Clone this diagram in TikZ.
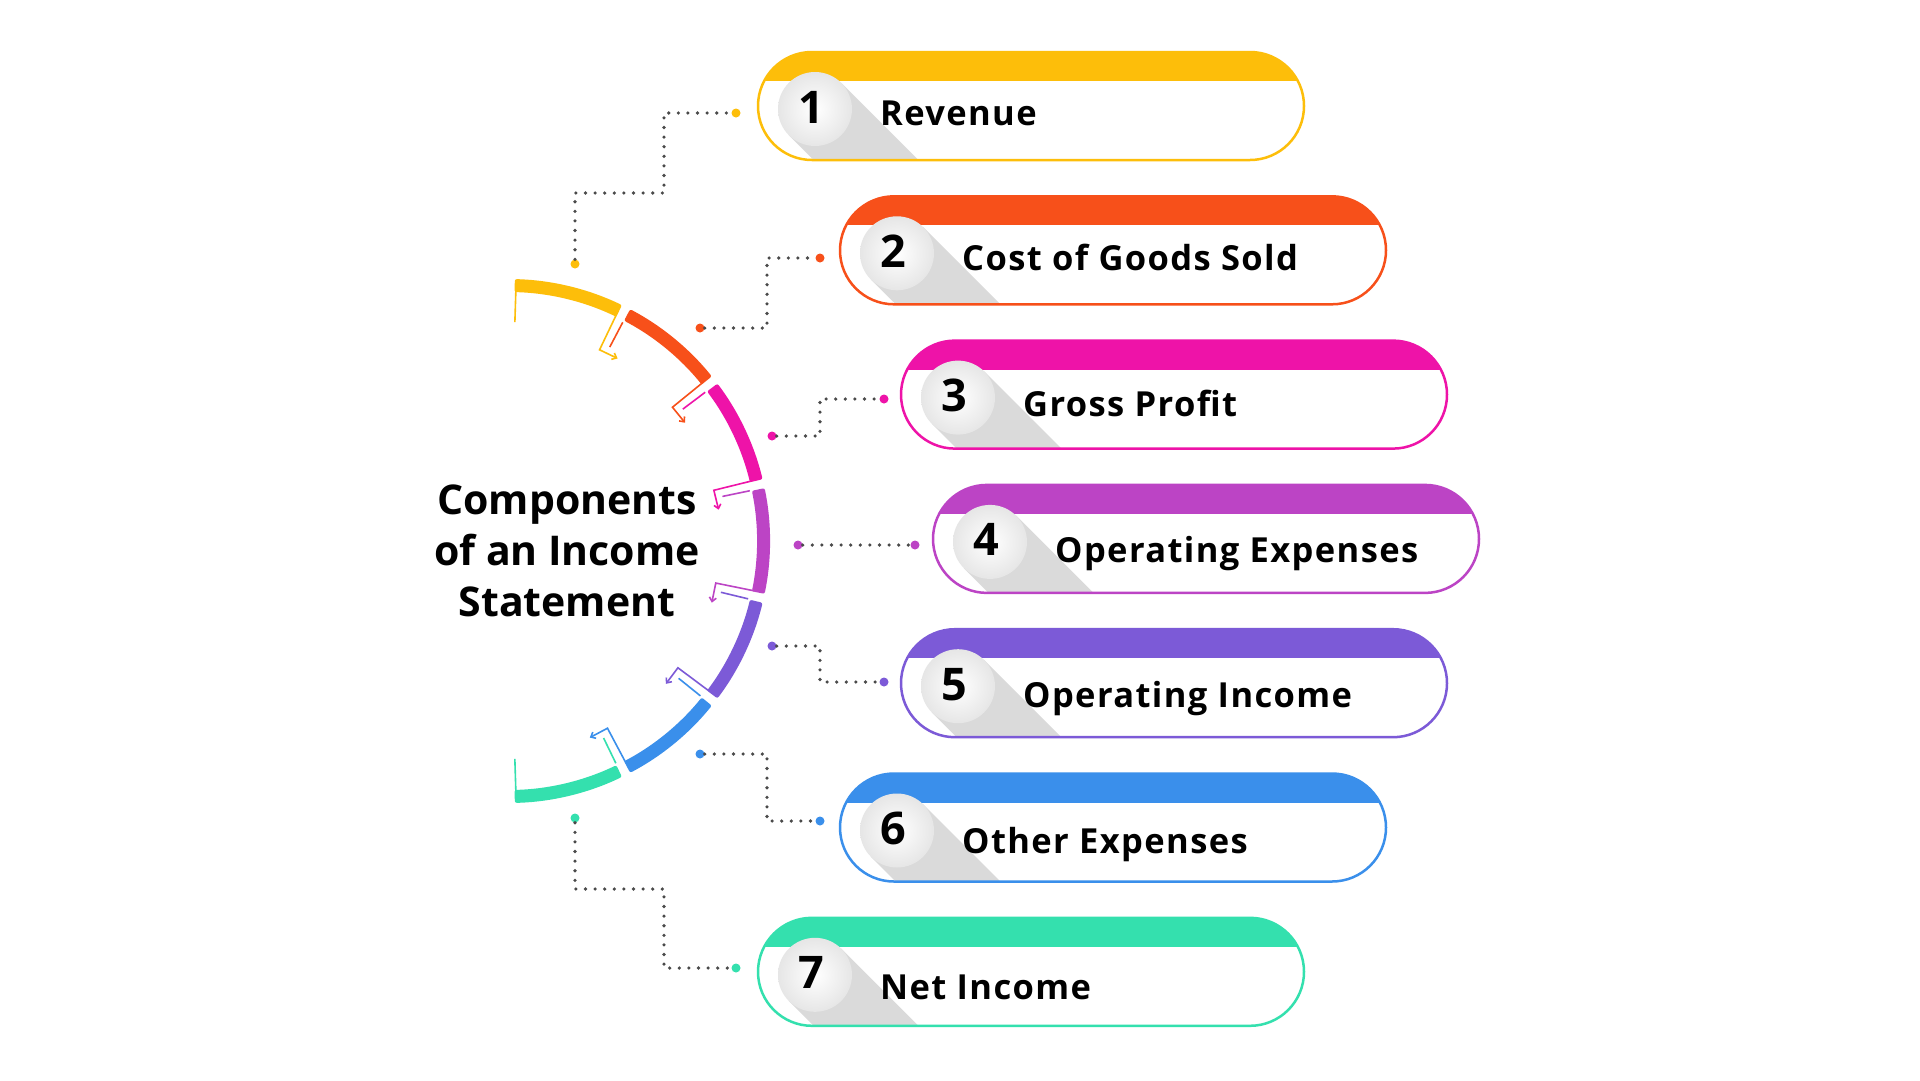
\documentclass[tikz,border=0pt]{standalone}
\usepackage{fontspec}
\setmainfont{Open Sans}
\newfontfamily\itemfont{Open Sans}[LetterSpace=4]
\usetikzlibrary{calc,arrows.meta}
\definecolor{c1}{HTML}{FDBE0A}
\definecolor{c2}{HTML}{F7501A}
\definecolor{c3}{HTML}{EE13A8}
\definecolor{c4}{HTML}{BC44C5}
\definecolor{c5}{HTML}{7C5AD7}
\definecolor{c6}{HTML}{3A8FEB}
\definecolor{c7}{HTML}{34E0AE}
\definecolor{dotgray}{HTML}{4A4A4A}
\definecolor{shadowgray}{HTML}{DADADA}
\definecolor{ballgray}{HTML}{E6E6E6}
\tikzset{
  cdot/.style={circle, inner sep=0pt, minimum size=9pt},
  link/.style={dotgray, line width=3.6pt, dash pattern=on 0pt off 9.6pt, line cap=round},
  numball/.style={circle, inner sep=0pt, minimum size=74pt, inner color=white, outer color=ballgray},
  numtext/.style={inner sep=0pt, font=\fontsize{45}{45}\selectfont\bfseries},
  itemtext/.style={anchor=base west, inner sep=0pt, font=\itemfont\fontsize{34.5}{40}\selectfont\bfseries},
  leg/.style={line width=1.6pt},
  pillline/.style={line width=2.5pt, rounded corners=54pt}
}
\newcommand{\pillitem}[5]{%
  \begin{scope}
    \clip[rounded corners=54pt] (#2,#3-54) rectangle ++(546,108);
    \fill[white] (#2,#3-54) rectangle ++(546,108);
    \fill[c#1] (#2,#3-54) rectangle ++(546,29);
    \fill[shadowgray] ($(#2+57,#3+3)+(26.2,-26.2)$) -- ++(240,240)
      -- ($(#2+57,#3+3)+(-26.2,26.2)+(240,240)$) -- ($(#2+57,#3+3)+(-26.2,26.2)$) -- cycle;
  \end{scope}
  \draw[c#1, pillline] (#2,#3-54) rectangle ++(546,108);
  \node[numball] (n#1) at (#2+57,#3+3) {};
  \node[numtext] (d#1) at (#2+53,#3+1) {#1};
  \node[itemtext] (t#1) at (#2+122,#5) {#4};
}
\begin{document}
\begin{tikzpicture}[x=1pt,y=-1pt]
\useasboundingbox (0,0) rectangle (1920,1080);
\fill[white] (0,0) rectangle (1920,1080);

% arc
\coordinate (C) at (508,541);
\foreach \k in {1,...,7}{
  \pgfmathsetmacro\aone{ifthenelse(\k==1, 88.5, 88.5-(\k-1)*25.2857-1)}
  \pgfmathsetmacro\atwo{ifthenelse(\k==7, -88.5, 88.5-\k*25.2857+1)}
  \fill[c\k, rounded corners=2pt] ($(C)+(-\aone:262)$) arc[start angle=-\aone, end angle=-\atwo, radius=262]
    -- ($(C)+(-\atwo:249)$) arc[start angle=-\atwo, end angle=-\aone, radius=249] -- cycle;
}
\foreach \j in {1,...,6}{
  \pgfmathtruncatemacro\jn{\j+1}
  \pgfmathsetmacro\tha{88.5-\j*25.2857+1.2}
  \pgfmathsetmacro\thb{88.5-\j*25.2857-0.9}
  \pgfmathsetmacro\tang{90-\tha}
  \draw[c\j, leg, -{Straight Barb[length=4pt,width=7pt]}] ($(C)+(-\tha:251)$) -- ($(C)+(-\tha:212)$) -- ++(\tang:20);
  \draw[c\jn, leg] ($(C)+(-\thb:247)$) -- ($(C)+(-\thb:219)$);
}
\draw[c1, leg] ($(C)+(-88.2:258)$) -- ($(C)+(-88.2:219)$);
\draw[c7, leg] ($(C)+(88.2:257)$) -- ($(C)+(88.2:218)$);

% title
\node[inner sep=0pt, align=center, font=\fontsize{41}{51}\selectfont\bfseries] (title) at (567,551)
  {Components\\of an Income\\Statement};

% pills
\pillitem{1}{758}{106}{Revenue}{125}
\pillitem{2}{840}{250.3}{Cost of Goods Sold}{270.6}
\pillitem{3}{901}{394.6}{Gross Profit}{416}
\pillitem{4}{933}{538.9}{Operating Expenses}{562}
\pillitem{5}{901}{683.2}{Operating Income}{707}
\pillitem{6}{840}{827.5}{Other Expenses}{853}
\pillitem{7}{758}{971.8}{Net Income}{999}

% connector end points
\node[cdot, fill=c1] (s1) at (575,264) {};
\node[cdot, fill=c2] (s2) at (700,328) {};
\node[cdot, fill=c3] (s3) at (772,436) {};
\node[cdot, fill=c4] (s4) at (798,545) {};
\node[cdot, fill=c5] (s5) at (772,646) {};
\node[cdot, fill=c6] (s6) at (700,754) {};
\node[cdot, fill=c7] (s7) at (575,818) {};
\node[cdot, fill=c1] (e1) at (736,113) {};
\node[cdot, fill=c2] (e2) at (820,258) {};
\node[cdot, fill=c3] (e3) at (884,399) {};
\node[cdot, fill=c4] (e4) at (915,545) {};
\node[cdot, fill=c5] (e5) at (884,682) {};
\node[cdot, fill=c6] (e6) at (820,821) {};
\node[cdot, fill=c7] (e7) at (736,968) {};
\coordinate (m1) at (664,193);
\coordinate (m2) at (767,258);
\coordinate (m3) at (820,399);
\coordinate (m5) at (820,682);
\coordinate (m6) at (767,821);
\coordinate (m7) at (664,889);

\draw[link] (s1) |- (m1) |- (e1);
\draw[link] (s2) -| (m2) -- (e2);
\draw[link] (s3) -| (m3) -- (e3);
\draw[link] (s4) -- (e4);
\draw[link] (s5) -| (m5) -- (e5);
\draw[link] (s6) -| (m6) -- (e6);
\draw[link] (s7) |- (m7) |- (e7);
\end{tikzpicture}
\end{document}
